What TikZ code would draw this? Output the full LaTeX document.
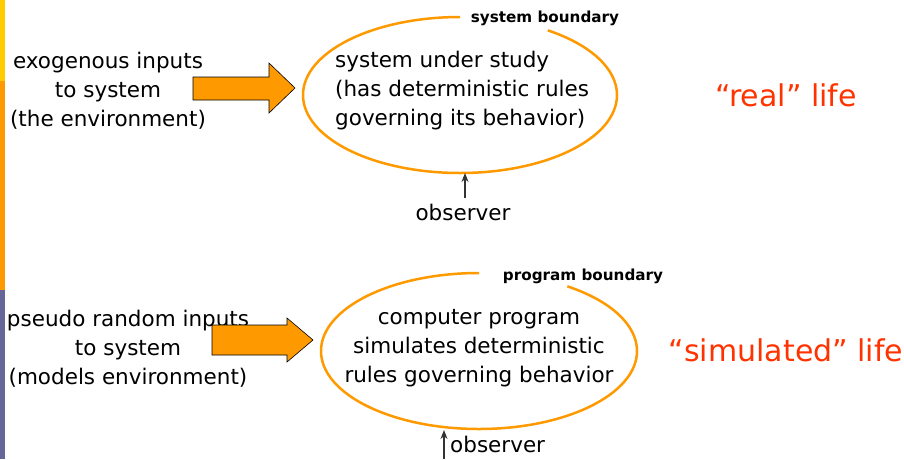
\documentclass[tikz,border=0pt]{standalone}
\usepackage{fontspec}
\setmainfont{DejaVu Sans}
\usetikzlibrary{positioning, arrows.meta}
\definecolor{bndorange}{HTML}{FF9900}
\definecolor{barorange}{HTML}{FF9900}
\definecolor{baryellow}{HTML}{FFCC00}
\definecolor{barpurple}{HTML}{666699}
\definecolor{lifered}{HTML}{FF3300}
\begin{document}
\begin{tikzpicture}[x=1pt, y=1pt,
		txt/.style = {align=center, inner sep=0, font=\fontsize{21.5}{29}\selectfont},
		lbl/.style = {inner sep=0, font=\bfseries\fontsize{15.2}{18}\selectfont},
		life/.style = {inner sep=0, text=lifered, font=\fontsize{30}{34}\selectfont},
		boundary/.style = {draw=bndorange, line width=2.5pt},
		blockarr/.style = {draw=black, fill=bndorange, line width=0.6pt},
		obs/.style = {draw=black!80, line width=1.3pt, -{Stealth[length=9pt, width=7pt]}}]
		\useasboundingbox (0,0) rectangle (904,-459);
		%% SIDE BAR
		\fill[baryellow] (0,0) rectangle (5,-81);
		\fill[barorange] (0,-81) rectangle (5,-290);
		\fill[barpurple] (0,-290) rectangle (5,-459);
		%% REAL LIFE
		% Inputs
		\node[txt] (env) at (108,-91) {exogenous inputs\\to system\\(the environment)};
		\draw[blockarr] (193,-77) -- (269,-77) -- (269,-63) -- (295,-88) -- (269,-113) -- (269,-100) -- (193,-100) -- cycle;
		% System
		\draw[boundary] (460,-95) ++(90:157 and 78) arc[start angle=90, end angle=416, x radius=157, y radius=78];
		\node[txt, align=left, anchor=west] (sys) at (335,-91) {system under study\\(has deterministic rules\\governing its behavior)};
		\node[lbl] (sysb) at (545,-18) {system boundary};
		\node[life] (real) at (786,-95) {“real” life};
		% Observer
		\coordinate (sysfoot) at (465,-173);
		\node[txt] (obs1) at (463,-212) {observer};
		\draw[obs] ([yshift=5]sysfoot |- obs1.north) -- (sysfoot);
		%% SIMULATED LIFE
		% Inputs
		\node[txt] (pseudo) at (128,-349) {pseudo random inputs\\to system\\(models environment)};
		\draw[blockarr] (212,-325) -- (287,-325) -- (287,-318) -- (313,-340) -- (287,-362) -- (287,-355) -- (212,-355) -- cycle;
		% Program
		\draw[boundary] (479,-351) ++(90:158 and 78) arc[start angle=90, end angle=416, x radius=158, y radius=78];
		\node[txt] (prog) at (479,-348) {computer program\\simulates deterministic\\rules governing behavior};
		\node[lbl] (progb) at (583,-276) {program boundary};
		\node[life] (sim) at (786,-350) {“simulated” life};
		% Observer
		\coordinate (progfoot) at (444,-459);
		\coordinate (progbot) at (444,-430);
		\node[txt, anchor=west] (obs2) at (450,-444) {observer};
		\draw[obs] (progfoot) -- (progbot);
	\end{tikzpicture}
\end{document}
